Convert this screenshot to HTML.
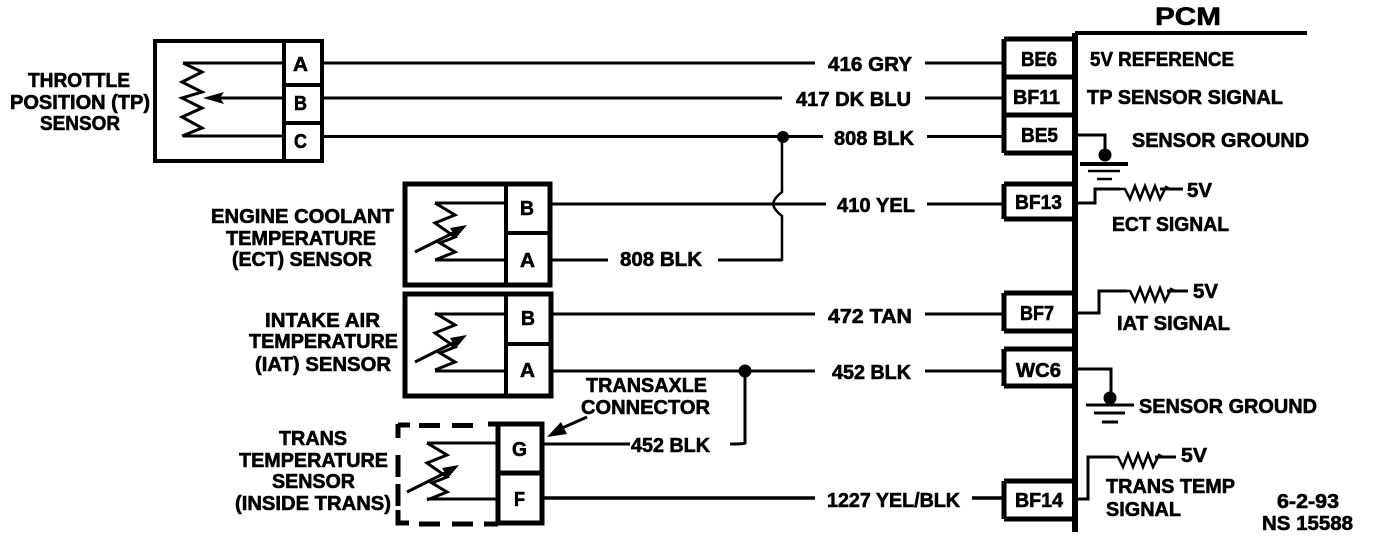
<!DOCTYPE html>
<html><head><meta charset="utf-8"><style>
html,body{margin:0;padding:0;background:#fff;width:1376px;height:538px;overflow:hidden}
svg{display:block}
text{font-family:"Liberation Sans",sans-serif;font-weight:bold;font-size:20px;fill:#000;stroke:#000;stroke-width:.6}
</style></head><body>
<svg width="1376" height="538" viewBox="0 0 1376 538" xmlns="http://www.w3.org/2000/svg">
<defs>
<g id="th">
<polyline points="435,203 455,215 435,223 455,237 440,243 455,252 435,260" fill="none" stroke="#000" stroke-width="3"/>
<line x1="415" y1="252" x2="455" y2="232" stroke="#000" stroke-width="3"/>
<polygon points="467,225 450,228 456,238" fill="#000"/>
</g>
<polyline id="rs" points="0,0 5,0 10,10 15,-3 20,10 25,-3 30,10 35,-3 40,10 46,-2 50,0" fill="none" stroke="#000" stroke-width="2.5"/>
</defs>
<g fill="none" stroke="#000" stroke-linecap="butt">
<!-- TP sensor -->
<rect x="155" y="41" width="167" height="120" stroke-width="4"/>
<path d="M284,41V161M284,85H322M284,123H322" stroke-width="4"/>
<path d="M183,63H284M208,98H284M183,136H284" stroke-width="3"/>
<polyline points="183,63 202,72 182,82 202,92 182,98 202,108 182,117 202,128 182,136" stroke-width="3"/>
<!-- wires -->
<path d="M323,63H815M925,63H1002M323,98H782M925,98H1002M323,136.500H823M927,136.500H1002" stroke-width="3"/>
<path d="M552,204H826M927,204H1002M552,260H608M718,260H782" stroke-width="3"/>
<path d="M782,136V192Q774,198 773,204Q774,210 782,216V261" stroke-width="2.500"/>
<path d="M552,314H815M925,314H1002M552,371H815M925,371H1002" stroke-width="3"/>
<path d="M745,371V443Q745,444 730,444M544,444H630" stroke-width="3"/>
<path d="M544,498H815M972,498H1002" stroke-width="3.5"/>
<!-- ECT box -->
<rect x="405" y="184" width="145" height="101" stroke-width="5"/>
<path d="M506,184V285M506,233H550" stroke-width="4"/>
<path d="M435,203H506M435,260H506" stroke-width="3"/>
<!-- IAT box -->
<rect x="405" y="294" width="146" height="102" stroke-width="5"/>
<path d="M506,294V396M506,344H551" stroke-width="4"/>
<path d="M435,314H506M435,371H506" stroke-width="3"/>
<!-- Trans box -->
<path d="M498,424H542V523H498ZM498,473H542" stroke-width="5"/>
<path d="M498,424V523" stroke-width="5"/>
<path d="M488,424H498M452,425.500H473M419,425.500H440M398,425H410M398,424V438M398,455V477M398,484V506M398,510V523H409M419,524H440M452,524H473M484,524H498" stroke-width="5"/>
<path d="M427,443H498M427,499H498" stroke-width="3"/>
<!-- PCM -->
<path d="M1075,33V532" stroke-width="6"/>
<path d="M1075,33H1307" stroke-width="4"/>
<path d="M1004,39H1075M1004,77H1075M1004,115H1075M1004,153H1075M1004,39V153" stroke-width="5"/>
<path d="M1004,184H1075M1004,219H1075M1004,184V219" stroke-width="5"/>
<path d="M1004,293H1075M1004,331H1075M1004,293V331" stroke-width="5"/>
<path d="M1004,349H1075M1004,386H1075M1004,349V386" stroke-width="5"/>
<path d="M1004,481H1075M1004,519H1075M1004,481V519" stroke-width="5"/>
<!-- ground 1 -->
<path d="M1075,135H1105V155" stroke-width="3"/>
<path d="M1080,164H1128" stroke-width="4"/>
<path d="M1088,171H1120" stroke-width="2.500"/>
<path d="M1097,179H1112" stroke-width="2.500"/>
<!-- ECT pullup -->
<path d="M1075,203H1095V189H1120" stroke-width="3"/>
<path d="M1160,189H1183" stroke-width="3"/>
<!-- IAT pullup -->
<path d="M1075,313H1099V291H1127" stroke-width="3"/>
<path d="M1167,291H1188" stroke-width="3"/>
<!-- ground 2 -->
<path d="M1075,369H1111V400" stroke-width="3"/>
<path d="M1086,405H1134" stroke-width="3"/>
<path d="M1094,413H1125" stroke-width="3"/>
<path d="M1102,422H1118" stroke-width="3"/>
<!-- trans pullup -->
<path d="M1075,499H1088V457H1115" stroke-width="3"/>
<path d="M1155,457H1176" stroke-width="3"/>
</g>
<use href="#rs" x="1120" y="189"/>
<use href="#rs" x="1125" y="291"/>
<use href="#rs" x="1113" y="457"/>
<use href="#th"/>
<use href="#th" y="110"/>
<use href="#th" x="-8" y="240"/>
<!-- TP arrow -->
<polygon points="203,98 224,92 220,98 224,104" fill="#000"/>
<!-- dots -->
<circle cx="783" cy="137" r="6" fill="#000"/>
<circle cx="745" cy="371" r="6.500" fill="#000"/>
<circle cx="1105" cy="155" r="6.500" fill="#000"/>
<circle cx="1110" cy="398" r="6.500" fill="#000"/>
<!-- transaxle arrow -->
<line x1="587" y1="417" x2="560" y2="429" stroke="#000" stroke-width="3"/>
<polygon points="547,437 561,422 567,434" fill="#000"/>

<g>
<text x="28" y="87" textLength="102" lengthAdjust="spacingAndGlyphs">THROTTLE</text>
<text x="10" y="109" textLength="140" lengthAdjust="spacingAndGlyphs">POSITION (TP)</text>
<text x="40" y="130" textLength="80" lengthAdjust="spacingAndGlyphs">SENSOR</text>
<text x="211" y="223" textLength="183" lengthAdjust="spacingAndGlyphs">ENGINE COOLANT</text>
<text x="226" y="245" textLength="150" lengthAdjust="spacingAndGlyphs">TEMPERATURE</text>
<text x="232" y="266" textLength="140" lengthAdjust="spacingAndGlyphs">(ECT) SENSOR</text>
<text x="265" y="327" textLength="115" lengthAdjust="spacingAndGlyphs">INTAKE AIR</text>
<text x="249" y="348" textLength="149" lengthAdjust="spacingAndGlyphs">TEMPERATURE</text>
<text x="255" y="371" textLength="136" lengthAdjust="spacingAndGlyphs">(IAT) SENSOR</text>
<text x="279" y="445" textLength="68" lengthAdjust="spacingAndGlyphs">TRANS</text>
<text x="239" y="467" textLength="149" lengthAdjust="spacingAndGlyphs">TEMPERATURE</text>
<text x="272" y="488" textLength="83" lengthAdjust="spacingAndGlyphs">SENSOR</text>
<text x="235" y="510" textLength="156" lengthAdjust="spacingAndGlyphs">(INSIDE TRANS)</text>
<text x="586" y="392" textLength="121" lengthAdjust="spacingAndGlyphs">TRANSAXLE</text>
<text x="581" y="414" textLength="129" lengthAdjust="spacingAndGlyphs">CONNECTOR</text>

<text x="293" y="71" textLength="15" lengthAdjust="spacingAndGlyphs">A</text>
<text x="294" y="110" textLength="13" lengthAdjust="spacingAndGlyphs">B</text>
<text x="294" y="148" textLength="13" lengthAdjust="spacingAndGlyphs">C</text>
<text x="520" y="215" textLength="14" lengthAdjust="spacingAndGlyphs">B</text>
<text x="520" y="267" textLength="15" lengthAdjust="spacingAndGlyphs">A</text>
<text x="521" y="325" textLength="14" lengthAdjust="spacingAndGlyphs">B</text>
<text x="520" y="377" textLength="15" lengthAdjust="spacingAndGlyphs">A</text>
<text x="512" y="456" textLength="15" lengthAdjust="spacingAndGlyphs">G</text>
<text x="514" y="506" textLength="11" lengthAdjust="spacingAndGlyphs">F</text>

<text x="828" y="71" textLength="84" lengthAdjust="spacingAndGlyphs">416 GRY</text>
<text x="796" y="106" textLength="115" lengthAdjust="spacingAndGlyphs">417 DK BLU</text>
<text x="834" y="145" textLength="80" lengthAdjust="spacingAndGlyphs">808 BLK</text>
<text x="837" y="212" textLength="78" lengthAdjust="spacingAndGlyphs">410 YEL</text>
<text x="620" y="266" textLength="82" lengthAdjust="spacingAndGlyphs">808 BLK</text>
<text x="828" y="323" textLength="84" lengthAdjust="spacingAndGlyphs">472 TAN</text>
<text x="832" y="379" textLength="79" lengthAdjust="spacingAndGlyphs">452 BLK</text>
<text x="631" y="452" textLength="79" lengthAdjust="spacingAndGlyphs">452 BLK</text>
<text x="827" y="507" textLength="133" lengthAdjust="spacingAndGlyphs">1227 YEL/BLK</text>

<text x="1155" y="25" textLength="66" lengthAdjust="spacingAndGlyphs" style="font-size:25px">PCM</text>
<text x="1021" y="66" textLength="36" lengthAdjust="spacingAndGlyphs">BE6</text>
<text x="1013" y="104" textLength="47" lengthAdjust="spacingAndGlyphs">BF11</text>
<text x="1021" y="142" textLength="37" lengthAdjust="spacingAndGlyphs">BE5</text>
<text x="1015" y="209" textLength="47" lengthAdjust="spacingAndGlyphs">BF13</text>
<text x="1020" y="320" textLength="34" lengthAdjust="spacingAndGlyphs">BF7</text>
<text x="1016" y="377" textLength="45" lengthAdjust="spacingAndGlyphs">WC6</text>
<text x="1015" y="507" textLength="48" lengthAdjust="spacingAndGlyphs">BF14</text>

<text x="1090" y="66" textLength="144" lengthAdjust="spacingAndGlyphs">5V REFERENCE</text>
<text x="1087" y="104" textLength="196" lengthAdjust="spacingAndGlyphs">TP SENSOR  SIGNAL</text>
<text x="1132" y="147" textLength="177" lengthAdjust="spacingAndGlyphs">SENSOR GROUND</text>
<text x="1187" y="197" textLength="25" lengthAdjust="spacingAndGlyphs">5V</text>
<text x="1112" y="231" textLength="117" lengthAdjust="spacingAndGlyphs">ECT SIGNAL</text>
<text x="1193" y="298" textLength="25" lengthAdjust="spacingAndGlyphs">5V</text>
<text x="1117" y="330" textLength="113" lengthAdjust="spacingAndGlyphs">IAT SIGNAL</text>
<text x="1139" y="413" textLength="178" lengthAdjust="spacingAndGlyphs">SENSOR GROUND</text>
<text x="1181" y="462" textLength="26" lengthAdjust="spacingAndGlyphs">5V</text>
<text x="1106" y="493" textLength="129" lengthAdjust="spacingAndGlyphs">TRANS TEMP</text>
<text x="1106" y="516" textLength="75" lengthAdjust="spacingAndGlyphs">SIGNAL</text>
<text x="1277" y="508" textLength="62" lengthAdjust="spacingAndGlyphs">6-2-93</text>
<text x="1262" y="530" textLength="91" lengthAdjust="spacingAndGlyphs">NS 15588</text>
</g>
</svg>
</body></html>
